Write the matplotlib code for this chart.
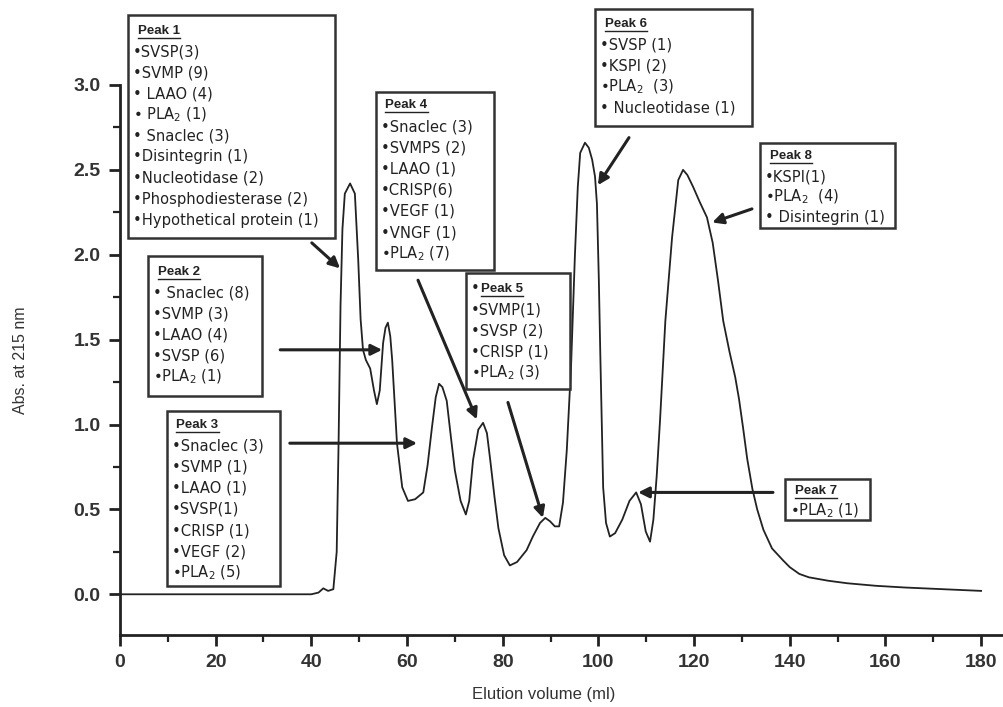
import matplotlib
matplotlib.use("Agg")
import matplotlib.pyplot as plt
from matplotlib.patches import Rectangle
import numpy as np

# Elution profile (ml, absorbance at 215 nm)
volume = [0, 20, 40, 41.5, 42.5, 43.5, 44.6, 45.3, 45.7, 46.1, 46.5, 47.0, 48.1,
          49.1, 49.8, 50.3, 50.8, 51.4, 52.3, 53.1, 53.7, 54.3, 55.0, 55.5, 56.0,
          56.5, 56.9, 57.9, 59.0, 60.2, 61.7, 63.4, 64.3, 65.2, 66.0, 66.7, 67.4,
          68.3, 69.2, 70.0, 71.2, 72.3, 73.0, 73.8, 74.9, 75.9, 76.7, 77.4, 78.3,
          79.1, 80.3, 81.5, 83.0, 85.0, 86.3, 87.8, 88.9, 89.9, 90.9, 91.8, 92.6,
          93.4, 94.3, 95.1, 95.7, 96.2, 97.2, 98.0, 98.7, 99.3, 99.7, 100.1, 100.4,
          101.0, 101.6, 102.4, 103.5, 105.0, 106.5, 107.9, 108.9, 109.9, 110.8,
          111.5, 112.2, 112.9, 114.0, 115.4, 116.7, 117.7, 118.6, 119.8, 121.2,
          122.7, 123.9, 125.0, 126.1, 127.4, 128.6, 129.4, 130.3, 131.1, 132.2,
          133.2, 134.5, 136.3, 138.6, 140.0, 142.0, 144.0, 148.0, 152.0, 158.0,
          164.0, 172.0, 180.0]
absorbance = [0.0, 0.0, 0.0, 0.01, 0.035, 0.02, 0.03, 0.25, 0.9, 1.7, 2.15, 2.36, 2.42,
              2.36, 1.97, 1.62, 1.44, 1.38, 1.33, 1.20, 1.12, 1.20, 1.48, 1.57, 1.60,
              1.52, 1.38, 0.89, 0.63, 0.55, 0.56, 0.60, 0.76, 0.98, 1.16, 1.24, 1.22,
              1.14, 0.92, 0.73, 0.55, 0.47, 0.55, 0.79, 0.97, 1.01, 0.95, 0.79, 0.57,
              0.39, 0.23, 0.17, 0.19, 0.26, 0.34, 0.42, 0.45, 0.43, 0.40, 0.40, 0.54,
              0.85, 1.35, 2.00, 2.40, 2.60, 2.66, 2.63, 2.56, 2.46, 2.30, 1.85, 1.42,
              0.63, 0.42, 0.34, 0.36, 0.44, 0.55, 0.60, 0.53, 0.37, 0.31,
              0.44, 0.70, 1.03, 1.61, 2.10, 2.44, 2.50, 2.47, 2.40, 2.31,
              2.22, 2.07, 1.85, 1.61, 1.43, 1.28, 1.15, 0.97, 0.80, 0.62,
              0.50, 0.38, 0.27, 0.20, 0.16, 0.12, 0.10, 0.08, 0.065, 0.05,
              0.04, 0.03, 0.02]

x_ticks = [0, 20, 40, 60, 80, 100, 120, 140, 160, 180]
y_ticks = [0.0, 0.5, 1.0, 1.5, 2.0, 2.5, 3.0]

PLA = r"PLA$_2$"
peak_titles = ["Peak 1", "Peak 2", "Peak 3", "Peak 4", "Peak 5", "Peak 6", "Peak 7", "Peak 8"]
peak1_items = ["\u2022SVSP(3)", "\u2022SVMP (9)", "\u2022 LAAO (4)", "\u2022 " + PLA + " (1)",
               "\u2022 Snaclec (3)", "\u2022Disintegrin (1)", "\u2022Nucleotidase (2)",
               "\u2022Phosphodiesterase (2)", "\u2022Hypothetical protein (1)"]
peak2_items = ["\u2022 Snaclec (8)", "\u2022SVMP (3)", "\u2022LAAO (4)", "\u2022SVSP (6)",
               "\u2022" + PLA + " (1)"]
peak3_items = ["\u2022Snaclec (3)", "\u2022SVMP (1)", "\u2022LAAO (1)", "\u2022SVSP(1)",
               "\u2022CRISP (1)", "\u2022VEGF (2)", "\u2022" + PLA + " (5)"]
peak4_items = ["\u2022Snaclec (3)", "\u2022SVMPS (2)", "\u2022LAAO (1)", "\u2022CRISP(6)",
               "\u2022VEGF (1)", "\u2022VNGF (1)", "\u2022" + PLA + " (7)"]
peak5_items = ["\u2022SVMP(1)", "\u2022SVSP (2)", "\u2022CRISP (1)", "\u2022" + PLA + " (3)"]
peak6_items = ["\u2022SVSP (1)", "\u2022KSPI (2)", "\u2022" + PLA + "  (3)", "\u2022 Nucleotidase (1)"]
peak7_items = ["\u2022" + PLA + " (1)"]
peak8_items = ["\u2022KSPI(1)", "\u2022" + PLA + "  (4)", "\u2022 Disintegrin (1)"]

plt.rcParams["font.family"] = ["Liberation Sans", "DejaVu Sans"]
plt.rcParams["mathtext.fontset"] = "dejavusans"

fig = plt.figure(figsize=(10.04, 7.07), dpi=100)
ax = fig.add_axes([0.1195, 0.1018, 0.8815, 0.778])

ax.plot(volume, absorbance, color="#222222", lw=1.3)

ax.set_xlim(0, 185)
ax.set_ylim(-0.24, 3.0)
ax.set_xticks(x_ticks)
ax.set_yticks(y_ticks)
ax.set_yticklabels([f"{v:.1f}" for v in y_ticks])
ax.set_xticks(np.arange(10, 185, 20), minor=True)
ax.set_yticks(np.arange(-0.25, 3.0, 0.5)[1:], minor=True)
for side in ("top", "right"):
    ax.spines[side].set_visible(False)
for side in ("left", "bottom"):
    ax.spines[side].set_linewidth(2)
    ax.spines[side].set_color("#222222")
ax.tick_params(which="major", length=8, width=2, color="#222222",
               labelsize=14, labelcolor="#333333", pad=6)
ax.tick_params(which="minor", length=5, width=1.6, color="#222222")
for lab in ax.get_xticklabels() + ax.get_yticklabels():
    lab.set_fontweight("bold")

ax.set_ylabel("Abs. at 215 nm", fontsize=11.5, color="#333333")
ax.yaxis.set_label_coords(-0.104, 0.5)
ax.set_xlabel("Elution volume (ml)", fontsize=12, color="#333333")
ax.xaxis.set_label_coords(0.479, -0.094)

# text boxes: (left, right, top, bottom) in data units, first baseline, spacing
boxes = [
    (1.7, 45.0, 3.41, 2.10, 3.32, 0.124, peak1_items),
    (5.9, 29.7, 1.99, 1.17, 1.90, 0.124, peak2_items),
    (9.8, 33.5, 1.08, 0.05, 1.00, 0.125, peak3_items),
    (53.5, 78.2, 2.96, 1.91, 2.88, 0.125, peak4_items),
    (72.3, 94.1, 1.89, 1.21, 1.80, 0.124, peak5_items),
    (99.3, 132.1, 3.45, 2.76, 3.36, 0.124, peak6_items),
    (139.0, 156.8, 0.68, 0.44, 0.61, 0.12, peak7_items),
    (133.8, 162.0, 2.66, 2.16, 2.58, 0.12, peak8_items),
]

item_font = dict(family="DejaVu Sans", fontsize=10.6, va="center", clip_on=False,
                 zorder=4, color="#222222")

headers = []
for title, (x0, x1, top, bot, first, step, items) in zip(peak_titles, boxes):
    ax.add_patch(Rectangle((x0, bot), x1 - x0, top - bot, fill=True, fc="white",
                           ec="#333333", lw=1.8, clip_on=False, zorder=3))
    hx = x0 + 2.0
    if title == "Peak 5":
        ax.text(x0 + 1.0, first, "\u2022", **item_font)
        hx = x0 + 3.2
    h = ax.text(hx, first, title, fontsize=9.5, fontweight="bold", va="center",
                clip_on=False, zorder=4, color="#222222")
    headers.append(h)
    for i, item in enumerate(items):
        ax.text(x0 + 1.0, first - step * (i + 1), item, **item_font)

# underline the peak headers
fig.canvas.draw()
inv = ax.transData.inverted()
for h in headers:
    bb = h.get_window_extent()
    (ux0, uy), (ux1, _) = inv.transform([(bb.x0, bb.y0 - 1), (bb.x1, bb.y0 - 1)])
    ax.plot([ux0, ux1], [uy, uy], color="#222222", lw=1.0, clip_on=False, zorder=4)

# arrows pointing at the peaks
arrows = [
    ((40.1, 2.07), (46.0, 1.92)),
    ((33.5, 1.44), (54.8, 1.44)),
    ((35.5, 0.89), (62.1, 0.89)),
    ((62.3, 1.85), (74.6, 1.03)),
    ((81.1, 1.13), (88.4, 0.45)),
    ((106.4, 2.69), (99.9, 2.41)),
    ((136.5, 0.60), (108.3, 0.60)),
    ((132.1, 2.27), (123.8, 2.19)),
]
for start, end in arrows:
    ax.annotate("", xy=end, xytext=start, annotation_clip=False,
                arrowprops=dict(arrowstyle="-|>", color="#222222", lw=2.2,
                                mutation_scale=16, shrinkA=0, shrinkB=0))

fig.savefig("out.png", dpi=100, facecolor="white")
